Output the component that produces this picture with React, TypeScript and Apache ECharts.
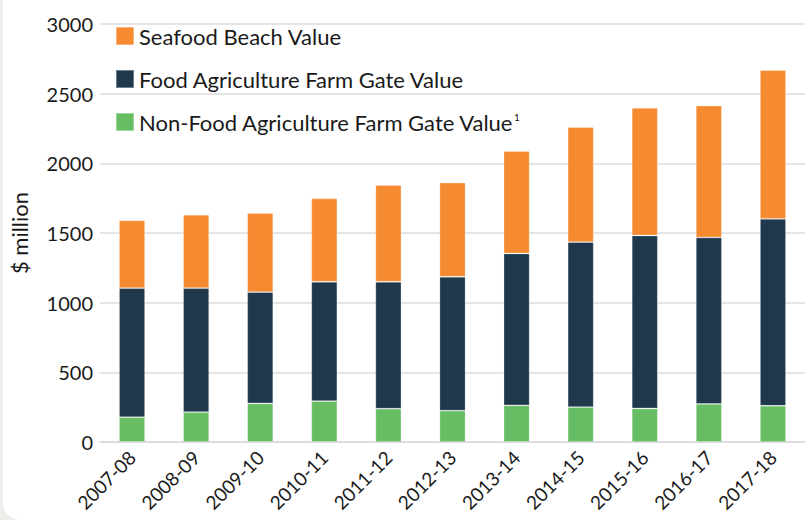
import React, { useEffect, useRef } from "react";
import * as echarts from "echarts";

const categories = ["2007-08", "2008-09", "2009-10", "2010-11", "2011-12", "2012-13", "2013-14", "2014-15", "2015-16", "2016-17", "2017-18"];
const nonFoodAg = [178, 215, 277, 294, 239, 225, 263, 251, 241, 273, 260];
const foodAg = [926, 890, 799, 856, 911, 961, 1090, 1184, 1241, 1195, 1342];
const seafood = [487, 526, 567, 598, 694, 676, 735, 825, 916, 947, 1067];
const yTicks = { min: 0, max: 3000, interval: 500 };

const NAME_SEAFOOD = "Seafood Beach Value";
const NAME_FOOD = "Food Agriculture Farm Gate Value";
const NAME_NONFOOD = "Non-Food Agriculture Farm Gate Value";

const FONT = "Lato, 'Open Sans', sans-serif";

export default function App() {
  const ref = useRef<HTMLDivElement>(null);
  useEffect(() => {
    document.body.style.margin = "0";
    const chart = echarts.init(ref.current!, null, { renderer: "svg" });
    const border = { borderColor: "rgba(255,255,255,0.35)", borderWidth: 0.8 };
    chart.setOption({
      animation: false,
      backgroundColor: "#efede9",
      graphic: [
        {
          type: "rect",
          z: -10,
          silent: true,
          shape: { x: 3, y: -40, width: 860, height: 560, r: [0, 0, 0, 17] },
          style: { fill: "#ffffff" },
        },
      ],
      textStyle: { fontFamily: FONT },
      grid: { left: 95, top: 24, width: 712, height: 418, containLabel: false },
      legend: {
        orient: "vertical",
        left: 115,
        top: 25,
        padding: 0,
        itemWidth: 18,
        itemHeight: 18,
        itemGap: 21,
        icon: "rect",
        data: [NAME_SEAFOOD, NAME_FOOD, NAME_NONFOOD],
        formatter: (name: string) =>
          name === NAME_NONFOOD ? `{t|${name}}{sup|1}` : `{t|${name}}`,
        textStyle: {
          color: "#1a1a1a",
          fontFamily: FONT,
          fontSize: 22,
          lineHeight: 20,
          rich: {
            t: { fontSize: 22, lineHeight: 20, color: "#1a1a1a", fontFamily: FONT },
            sup: { fontSize: 10, lineHeight: 20, color: "#1a1a1a", fontFamily: FONT, verticalAlign: "top", padding: [0, 0, 0, 0] },
          },
        },
      },
      xAxis: {
        type: "category",
        data: categories,
        axisLine: { show: true, lineStyle: { color: "#d9d9d9", width: 1.5 } },
        axisTick: { show: false },
        axisLabel: {
          rotate: 45,
          interval: 0,
          margin: 12,
          fontSize: 19,
          color: "#1a1a1a",
          fontFamily: FONT,
        },
      },
      yAxis: {
        type: "value",
        min: yTicks.min,
        max: yTicks.max,
        interval: yTicks.interval,
        name: "$ million",
        nameLocation: "middle",
        nameRotate: 90,
        nameGap: 70,
        nameTextStyle: { fontSize: 22, color: "#1a1a1a", fontFamily: FONT },
        axisLine: { show: false },
        axisTick: { show: false },
        splitLine: { lineStyle: { color: "#dcdcdc", width: 1.5 } },
        axisLabel: {
          fontSize: 20,
          color: "#1a1a1a",
          margin: 7,
          fontFamily: FONT,
          formatter: (v: number) => String(v),
        },
      },
      series: [
        {
          name: NAME_NONFOOD,
          type: "bar",
          stack: "total",
          barWidth: 26,
          data: nonFoodAg,
          itemStyle: { color: "#67bd63", ...border },
        },
        {
          name: NAME_FOOD,
          type: "bar",
          stack: "total",
          barWidth: 26,
          data: foodAg,
          itemStyle: { color: "#1f384c", ...border },
        },
        {
          name: NAME_SEAFOOD,
          type: "bar",
          stack: "total",
          barWidth: 26,
          data: seafood,
          itemStyle: { color: "#f68a30", ...border },
        },
      ],
    });
    return () => chart.dispose();
  }, []);
  return <div ref={ref} style={{ position: "fixed", left: 0, top: 0, width: 805, height: 520 }} />;
}
